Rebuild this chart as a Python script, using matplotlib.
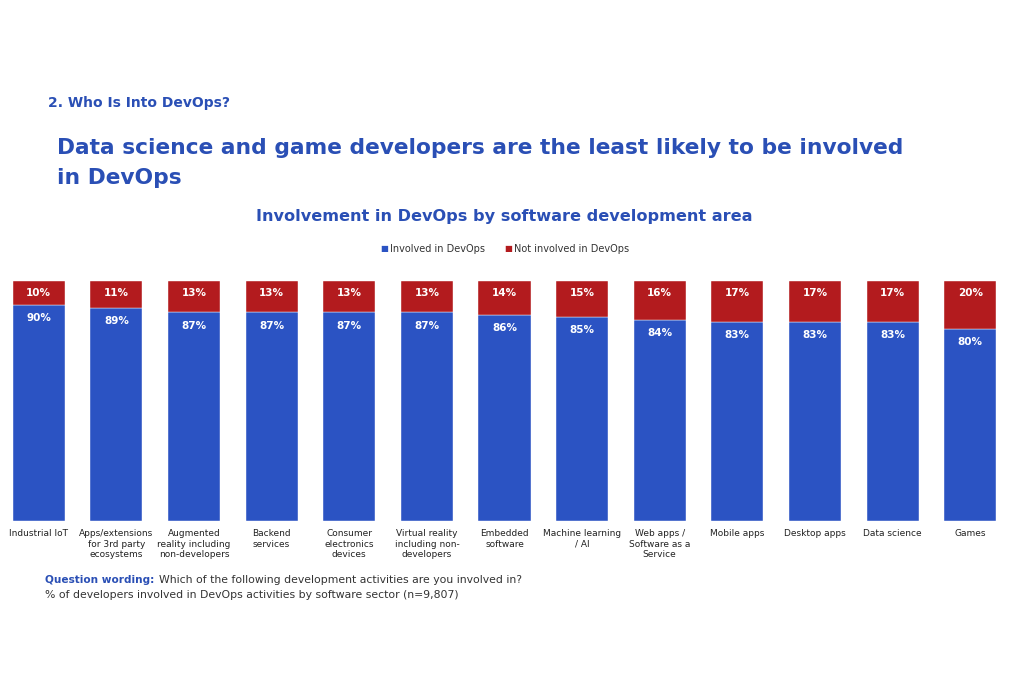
import matplotlib.pyplot as plt
import numpy as np

# 데이터
categories = ['Industrial IoT', 'Apps/extensions\nfor 3rd party\necosystems',
              'Augmented\nreality including\nnon-developers', 'Backend\nservices',
              'Consumer\nelectronics\ndevices', 'Virtual reality\nincluding non-\ndevelopers',
              'Embedded\nsoftware', 'Machine learning\n/ AI',
              'Web apps /\nSoftware as a\nService', 'Mobile apps', 'Desktop apps',
              'Data science', 'Games']
involved = [90, 89, 87, 87, 87, 87, 86, 85, 84, 83, 83, 83, 80]
not_involved = [10, 11, 13, 13, 13, 13, 14, 15, 16, 17, 17, 17, 20]

BLUE = '#2b53c3'
RED = '#b31b1e'
TITLE = '#2a4fb5'

plt.rcParams['font.family'] = ['DejaVu Sans']
fig = plt.figure(figsize=(10.24, 6.83), dpi=100)
ax = fig.add_axes([0.0, 0.237, 1009 / 1024, 0.3514])

x = np.arange(len(categories))
ax.bar(x, involved, width=0.67, color=BLUE, edgecolor='white', linewidth=0.3)
ax.bar(x, not_involved, bottom=involved, width=0.67, color=RED,
       edgecolor='white', linewidth=0.3)

# 라벨
for i in range(len(categories)):
    ax.text(x[i], involved[i] - 5.5, f'{involved[i]}%', ha='center', va='center',
            color='white', fontsize=7.5, fontweight='bold')
    ax.text(x[i], 95, f'{not_involved[i]}%', ha='center', va='center',
            color='white', fontsize=7.5, fontweight='bold')

ax.set_xlim(-0.5, len(categories) - 0.5)
ax.set_ylim(0, 100)
ax.set_xticks(x)
ax.set_xticklabels(categories, fontsize=6.5, color='#222222', linespacing=1.15, va='top')
ax.tick_params(axis='x', length=0, pad=6)
ax.set_yticks([])
for s in ax.spines.values():
    s.set_visible(False)

# 제목
fig.text(48 / 1024, 1 - 103 / 683, '2. Who Is Into DevOps?', fontsize=10,
         fontweight='heavy', color=TITLE, va='center')
fig.text(57 / 1024, 1 - 148 / 683,
         'Data science and game developers are the least likely to be involved',
         fontsize=15.7, fontweight='bold', color=TITLE, va='center')
fig.text(57 / 1024, 1 - 178 / 683, 'in DevOps',
         fontsize=15.7, fontweight='bold', color=TITLE, va='center')
fig.text(504 / 1024, 1 - 216 / 683, 'Involvement in DevOps by software development area',
         fontsize=11.6, fontweight='bold', color=TITLE, va='center', ha='center')

# 범례
fig.text(380 / 1024, 1 - 249 / 683, '■', fontsize=6, color=BLUE, va='center')
fig.text(390 / 1024, 1 - 249 / 683, 'Involved in DevOps', fontsize=7,
         color='#333333', va='center')
fig.text(504 / 1024, 1 - 249 / 683, '■', fontsize=6, color=RED, va='center')
fig.text(514 / 1024, 1 - 249 / 683, 'Not involved in DevOps', fontsize=7,
         color='#333333', va='center')

# 설명
fig.text(45 / 1024, 1 - 580 / 683, 'Question wording:', fontsize=7.6,
         fontweight='bold', color=TITLE, va='center')
fig.text(159 / 1024, 1 - 580 / 683,
         'Which of the following development activities are you involved in?',
         fontsize=7.8, color='#333333', va='center')
fig.text(45 / 1024, 1 - 595 / 683,
         '% of developers involved in DevOps activities by software sector (n=9,807)',
         fontsize=7.8, color='#333333', va='center')

fig.savefig('out.png', dpi=100)
